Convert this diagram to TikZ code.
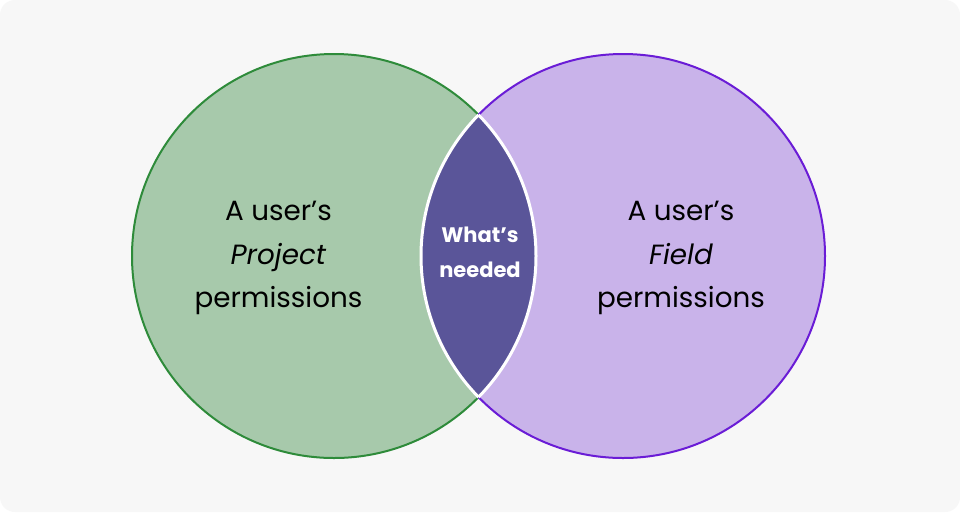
\documentclass[tikz,border=0pt]{standalone}
\usepackage{fontspec}
\setmainfont{Poppins}
\definecolor{bgcol}{HTML}{F7F7F7}
\definecolor{greenfill}{HTML}{A7C9AB}
\definecolor{greenline}{HTML}{2E8B3A}
\definecolor{purpfill}{HTML}{C9B3EA}
\definecolor{purpline}{HTML}{6A1CD6}
\definecolor{lensfill}{HTML}{5A5599}
\begin{document}
\begin{tikzpicture}[x=1pt,y=-1pt,
  setbox/.style={circle, minimum size=404pt, inner sep=0pt},
  bigtext/.style={align=center, font=\fontsize{27.8}{43.5}\selectfont, text=black},
  lenstext/.style={align=center, font=\fontsize{21}{35}\selectfont\bfseries, text=white}]
\useasboundingbox (0,0) rectangle (960,512);
\fill[white] (0,0) rectangle (960,512);
\fill[bgcol, rounded corners=15pt] (0,0) rectangle (960,512);
% sets
\node[setbox, fill=greenfill, draw=greenline, line width=2pt] (L) at (334,256) {};
\node[setbox, fill=purpfill, draw=purpline, line width=2pt] (R) at (623,256) {};
% lens
\begin{scope}
  \clip (334,256) circle (202pt);
  \fill[lensfill] (623,256) circle (202pt);
  \draw[white, line width=3pt] (623,256) circle (202pt);
\end{scope}
\begin{scope}
  \clip (623,256) circle (202pt);
  \draw[white, line width=3pt] (334,256) circle (202pt);
\end{scope}
% labels
\node[bigtext] (lt) at (278.5,258) {A user’s\\\textit{Project}\\permissions};
\node[bigtext] (rt) at (681,258) {A user’s\\\textit{Field}\\permissions};
\node[lenstext] (mt) at (480,252) {What’s\\needed};
\end{tikzpicture}
\end{document}
